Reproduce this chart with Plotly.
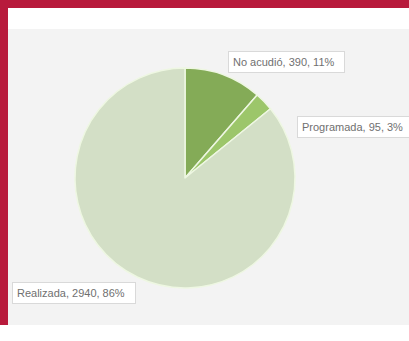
import plotly.graph_objects as go

categories = ["No acudió", "Programada", "Realizada"]
values = [390, 95, 2940]
percents = ["11%", "3%", "86%"]
colors = ["#84ab57", "#9cc66a", "#d3dfc6"]

W, H = 409, 341

def px(x):
    return x / W

def py(y):
    return 1 - y / H

fig = go.Figure(go.Pie(
    labels=categories,
    values=values,
    sort=False,
    direction="clockwise",
    rotation=0,
    textinfo="none",
    hoverinfo="label+value+percent",
    marker=dict(colors=colors, line=dict(color="#eef7e2", width=1.5)),
    domain=dict(x=[px(75), px(295)], y=[py(288), py(68)]),
    showlegend=False,
))

shapes = [
    dict(type="rect", xref="paper", yref="paper", x0=px(8), x1=1, y0=py(325), y1=py(29),
         fillcolor="#f3f3f3", line=dict(width=0), layer="below"),
    dict(type="rect", xref="paper", yref="paper", x0=0, x1=1, y0=py(8), y1=1,
         fillcolor="#b81a3c", line=dict(width=0)),
    dict(type="rect", xref="paper", yref="paper", x0=0, x1=px(8), y0=py(325), y1=1,
         fillcolor="#b81a3c", line=dict(width=0)),
]

label_pos = [(228, 62), (297, 127), (12, 293)]
annotations = []
for cat, v, p, (x, y) in zip(categories, values, percents, label_pos):
    annotations.append(dict(
        x=px(x), y=py(y), xref="paper", yref="paper",
        text=f"{cat}, {v}, {p}&nbsp;&nbsp;", showarrow=False,
        xanchor="left", yanchor="middle",
        font=dict(family="Liberation Sans", size=11, color="#707070"),
        bgcolor="#ffffff", bordercolor="#d9d9d9", borderwidth=1, borderpad=4,
    ))

fig.update_layout(
    width=W, height=H,
    margin=dict(l=0, r=0, t=0, b=0),
    paper_bgcolor="#ffffff",
    plot_bgcolor="#ffffff",
    shapes=shapes,
    annotations=annotations,
)

fig.write_html(
    "out.html",
    config={"displayModeBar": False},
    post_script="document.body.style.margin='0';document.body.style.overflow='hidden';",
)
